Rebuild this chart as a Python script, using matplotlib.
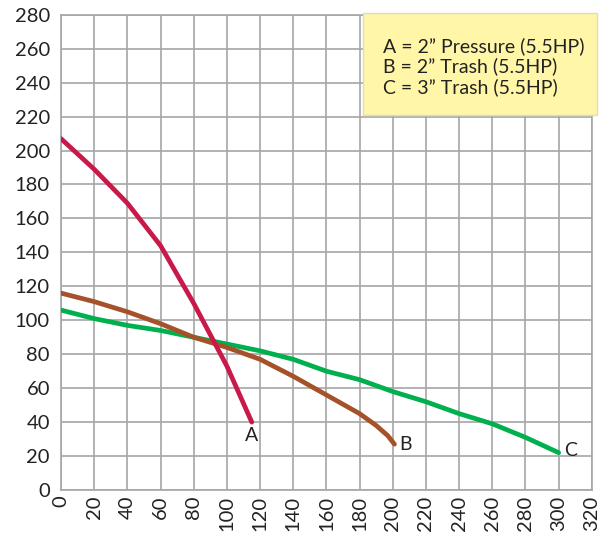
import matplotlib.pyplot as plt
from matplotlib.patches import Rectangle

plt.rcParams['font.family'] = ['Lato', 'DejaVu Sans']

# flow (x) and head (y)
a_x = [0, 20, 40, 60, 80, 100, 115]
a_y = [207, 189, 169, 144, 110, 73, 40]

b_x = [0, 20, 40, 60, 80, 100, 120, 140, 160, 180, 190, 197, 201]
b_y = [116, 111, 105, 98, 90, 84, 77, 67, 56, 45, 38, 32, 27]

c_x = [0, 20, 40, 60, 80, 100, 120, 140, 160, 180, 200, 220, 240, 260, 280, 300]
c_y = [106, 101, 97, 94, 90, 86, 82, 77, 70, 65, 58, 52, 45, 39, 31, 22]

x_ticks = list(range(0, 321, 20))
y_ticks = list(range(0, 281, 20))
legend_lines = ['A = 2\u201d Pressure (5.5HP)',
                'B = 2\u201d Trash (5.5HP)',
                'C = 3\u201d Trash (5.5HP)']

fig = plt.figure(figsize=(6.13, 5.37), dpi=100)
ax = fig.add_axes([0.0995, 0.0875, 0.866, 0.885])

ax.plot(c_x, c_y, color='#00b04f', lw=3.4, solid_capstyle='round', zorder=3)
ax.plot(b_x, b_y, color='#a5522a', lw=3.4, solid_capstyle='round', zorder=4)
ax.plot(a_x, a_y, color='#c8194a', lw=3.4, solid_capstyle='round', zorder=5)

ax.text(115, 37, 'A', fontsize=14, ha='center', va='top', color='#222222')
ax.text(204, 27, 'B', fontsize=14, ha='left', va='center', color='#222222')
ax.text(303, 23, 'C', fontsize=14, ha='left', va='center', color='#222222')

ax.set_xlim(0, 320)
ax.set_ylim(0, 280)
ax.set_xticks(x_ticks)
ax.set_yticks(y_ticks)
ax.set_xticklabels([str(t) for t in x_ticks], rotation=90)
ax.tick_params(axis='both', length=0, labelsize=14.5, labelcolor='#222222')
ax.tick_params(axis='x', pad=4)
ax.tick_params(axis='y', pad=8)
ax.grid(True, color='#a6a6a6', lw=1.2)
ax.set_axisbelow(True)
for s in ax.spines.values():
    s.set_color('#a6a6a6')
    s.set_linewidth(1.2)

# yellow legend box
box = Rectangle((182, 221), 141, 60, facecolor='#fff6a8', edgecolor='#e0dcc0',
                lw=1, zorder=6, clip_on=False)
ax.add_patch(box)
ax.text(194, 267, '\n'.join(legend_lines), fontsize=14, va='top', ha='left',
        color='#222222', linespacing=1.2, zorder=7)

fig.savefig('out.png', dpi=100)
